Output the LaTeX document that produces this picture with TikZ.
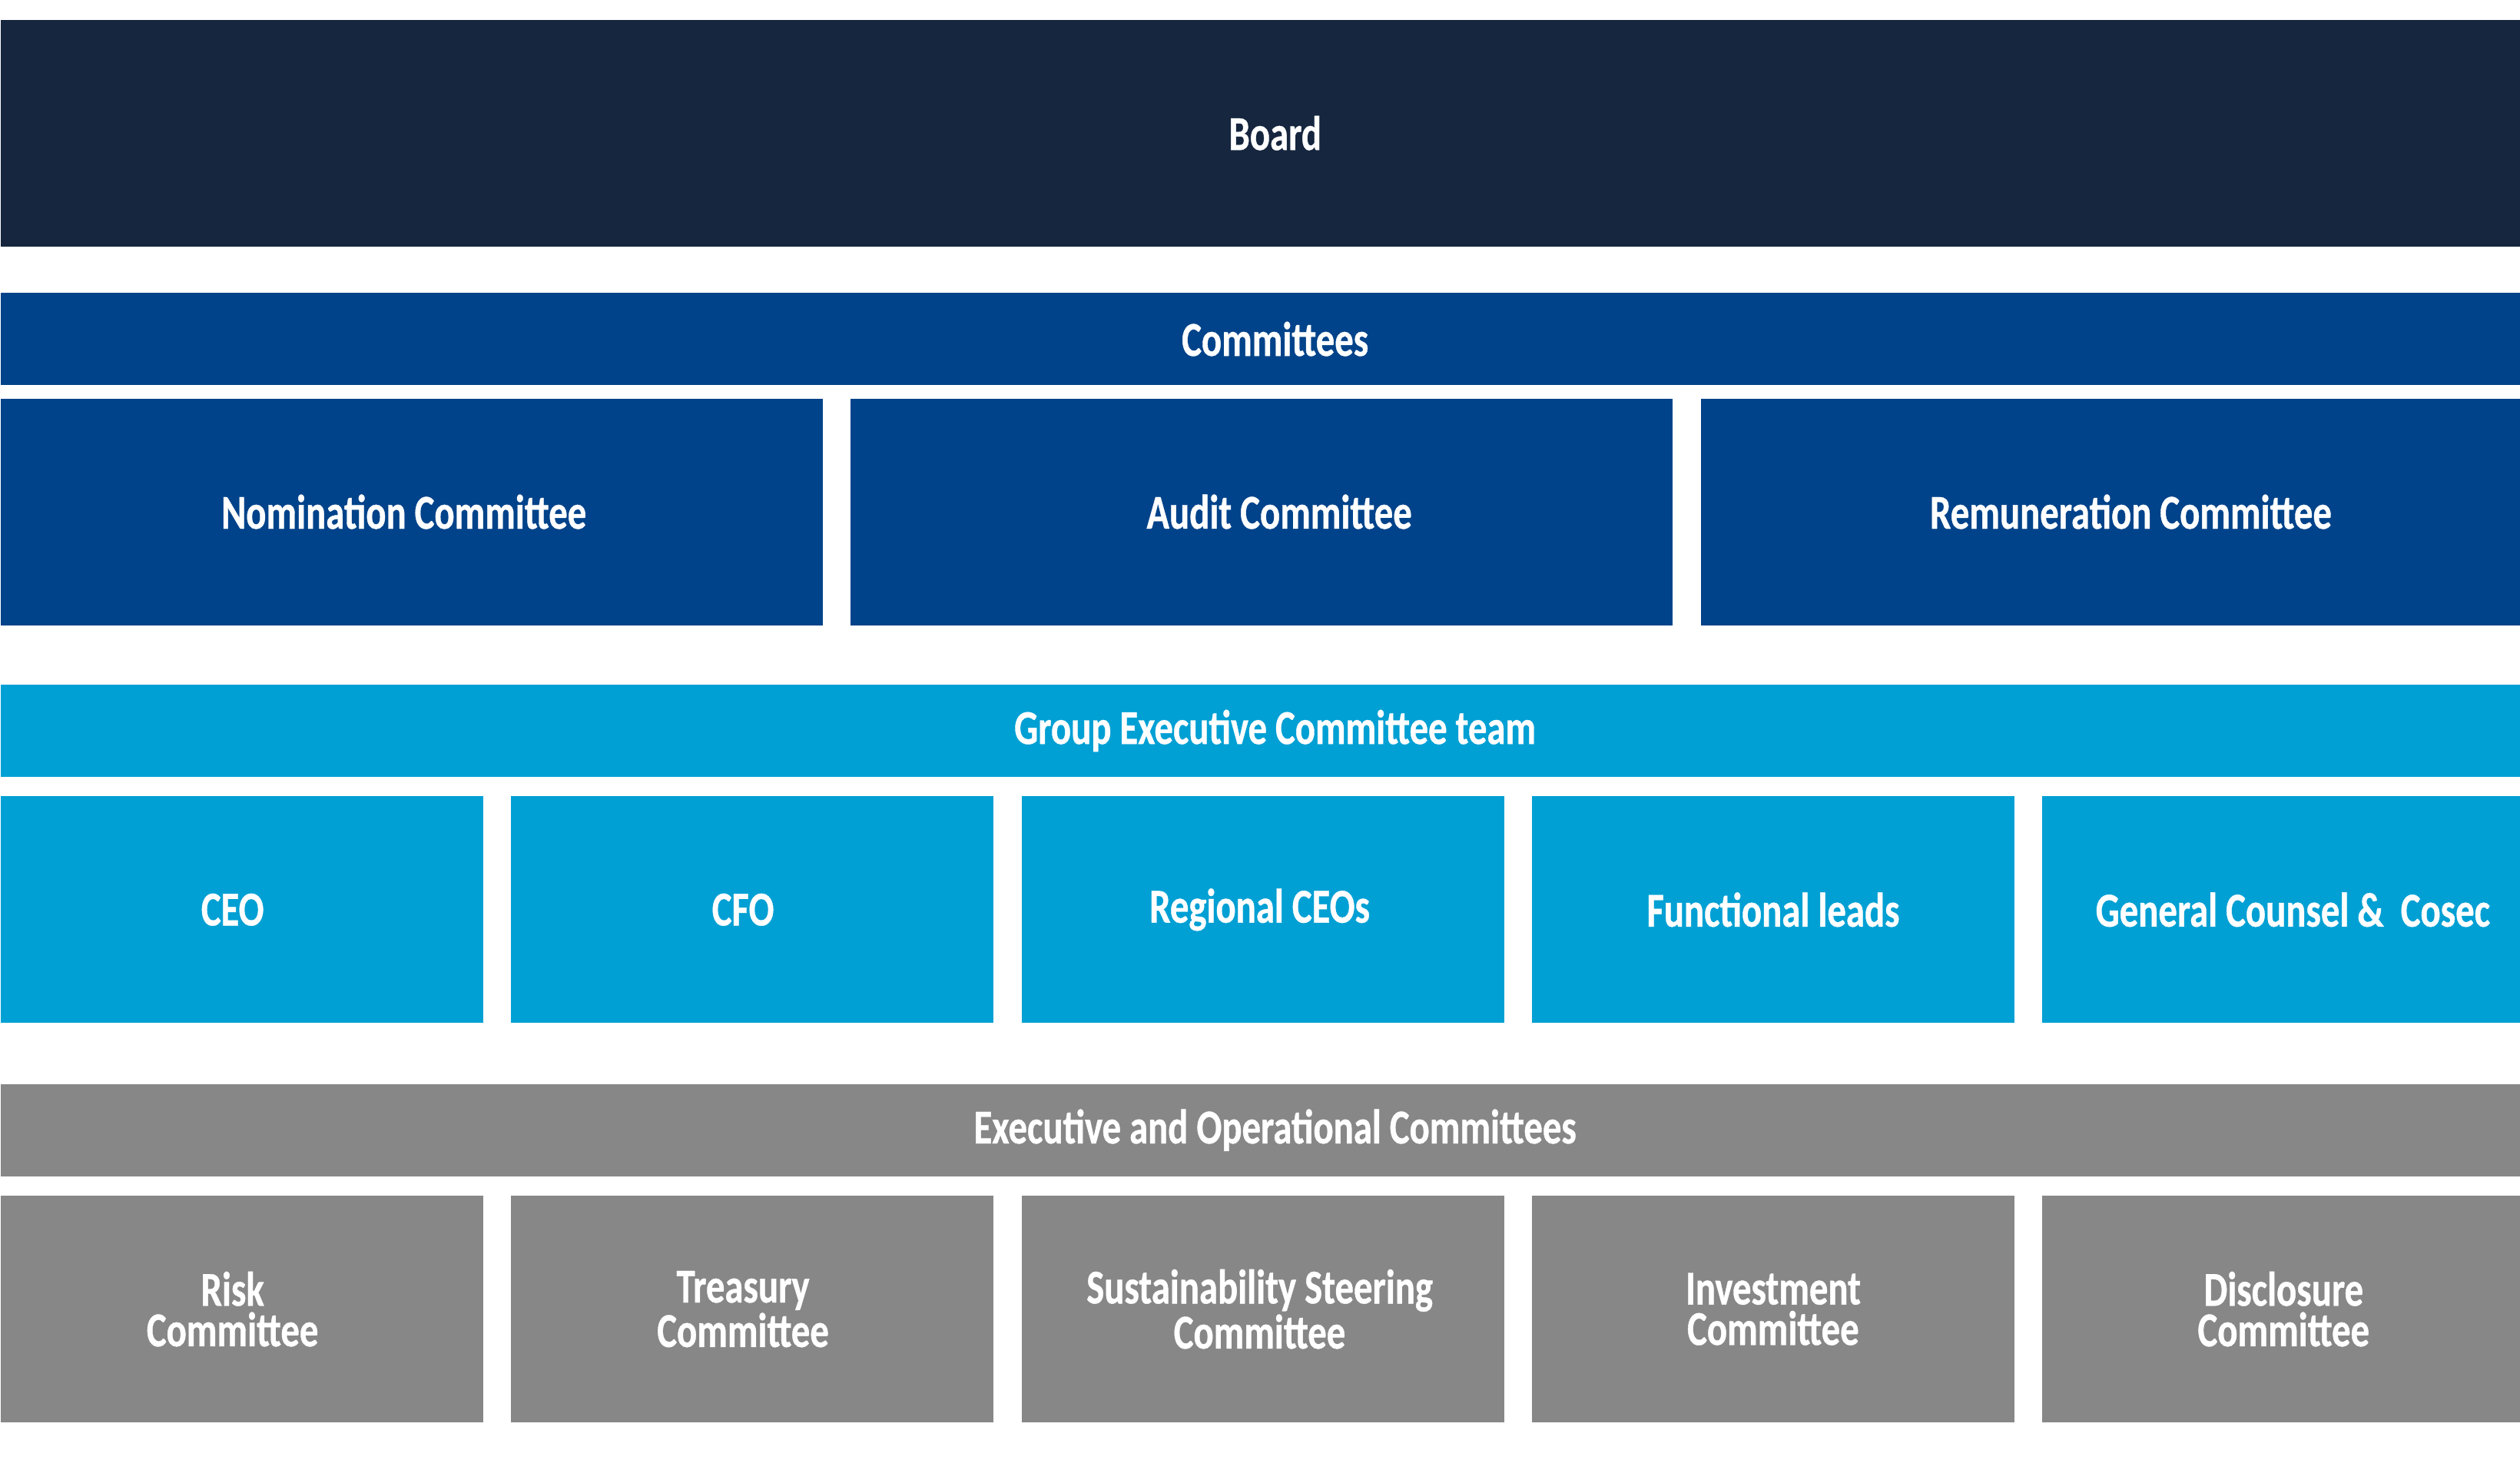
\documentclass[tikz,border=0pt]{standalone}
\usepackage{fontspec}
\setmainfont{Carlito}[FakeStretch=0.77,FakeBold=0.6]
\usetikzlibrary{positioning}

\definecolor{boardnavy}{HTML}{16263F}
\definecolor{commblue}{HTML}{00438A}
\definecolor{execblue}{HTML}{00A0D4}
\definecolor{opgrey}{HTML}{878787}

\begin{document}
\begin{tikzpicture}[
  every node/.style={inner sep=0pt,text=white,align=center,
    font=\bfseries\fontsize{18}{15}\selectfont},
  caption/.style 2 args={label={[xshift=#1]center:{#2}}},
  bar/.style={fill=#1,minimum width=32.8cm,minimum height=1.2cm},
  tile/.style={fill=#1,minimum height=2.95cm},
  wide/.style={tile=#1,minimum width=10.7cm},
  narrow/.style={tile=#1,minimum width=6.28cm},
  node distance=0.35cm,
  ]
  \useasboundingbox (0,0) rectangle (32.8,-19);

  % board
  \node[fill=boardnavy,minimum width=32.8cm,minimum height=2.95cm,anchor=north west,
    caption={0.19cm}{Board}] (board) at (0,-0.25) {};

  % committees
  \node[bar=commblue,below right=0.59cm and 0cm of board.south west,caption={0.19cm}{Committees}] (comm) {};
  \node[wide=commblue,below right=0.16cm and 0cm of comm.south west,caption={-0.1cm}{Nomination Committee}] (nom) {};
  \node[wide=commblue,right=of nom,caption={0.23cm}{Audit Committee}] (audit) {};
  \node[wide=commblue,right=of audit,caption={0.25cm}{Remuneration Committee}] (remun) {};

  % group executive
  \node[bar=execblue,below right=0.76cm and 0cm of nom.south west,caption={0.19cm}{Group Executive Committee team}] (gec) {};
  \node[narrow=execblue,below right=0.24cm and 0cm of gec.south west,caption={-0.12cm}{CEO}] (ceo) {};
  \node[narrow=execblue,right=of ceo,caption={-0.12cm}{CFO}] (cfo) {};
  \node[narrow=execblue,right=of cfo,caption={-0.04cm}{Regional CEOs}] (rceo) {};
  \node[narrow=execblue,right=of rceo,caption={0cm}{Functional leads}] (flead) {};
  \node[narrow=execblue,right=of flead,caption={0.12cm}{General Counsel \&\ \ Cosec}] (gcounsel) {};

  % executive and operational
  \node[bar=opgrey,below right=0.78cm and 0cm of ceo.south west,caption={0.19cm}{Executive and Operational Committees}] (eoc) {};
  \node[narrow=opgrey,below right=0.24cm and 0cm of eoc.south west,caption={-0.12cm}{Risk\\Committee}] (risk) {};
  \node[narrow=opgrey,right=of risk,caption={-0.12cm}{Treasury\\Committee}] (treas) {};
  \node[narrow=opgrey,right=of treas,caption={-0.04cm}{Sustainability Steering\\Committee}] (sustain) {};
  \node[narrow=opgrey,right=of sustain,caption={0cm}{Investment\\Committee}] (invest) {};
  \node[narrow=opgrey,right=of invest,caption={0cm}{Disclosure\\Committee}] (disclose) {};
\end{tikzpicture}
\end{document}
